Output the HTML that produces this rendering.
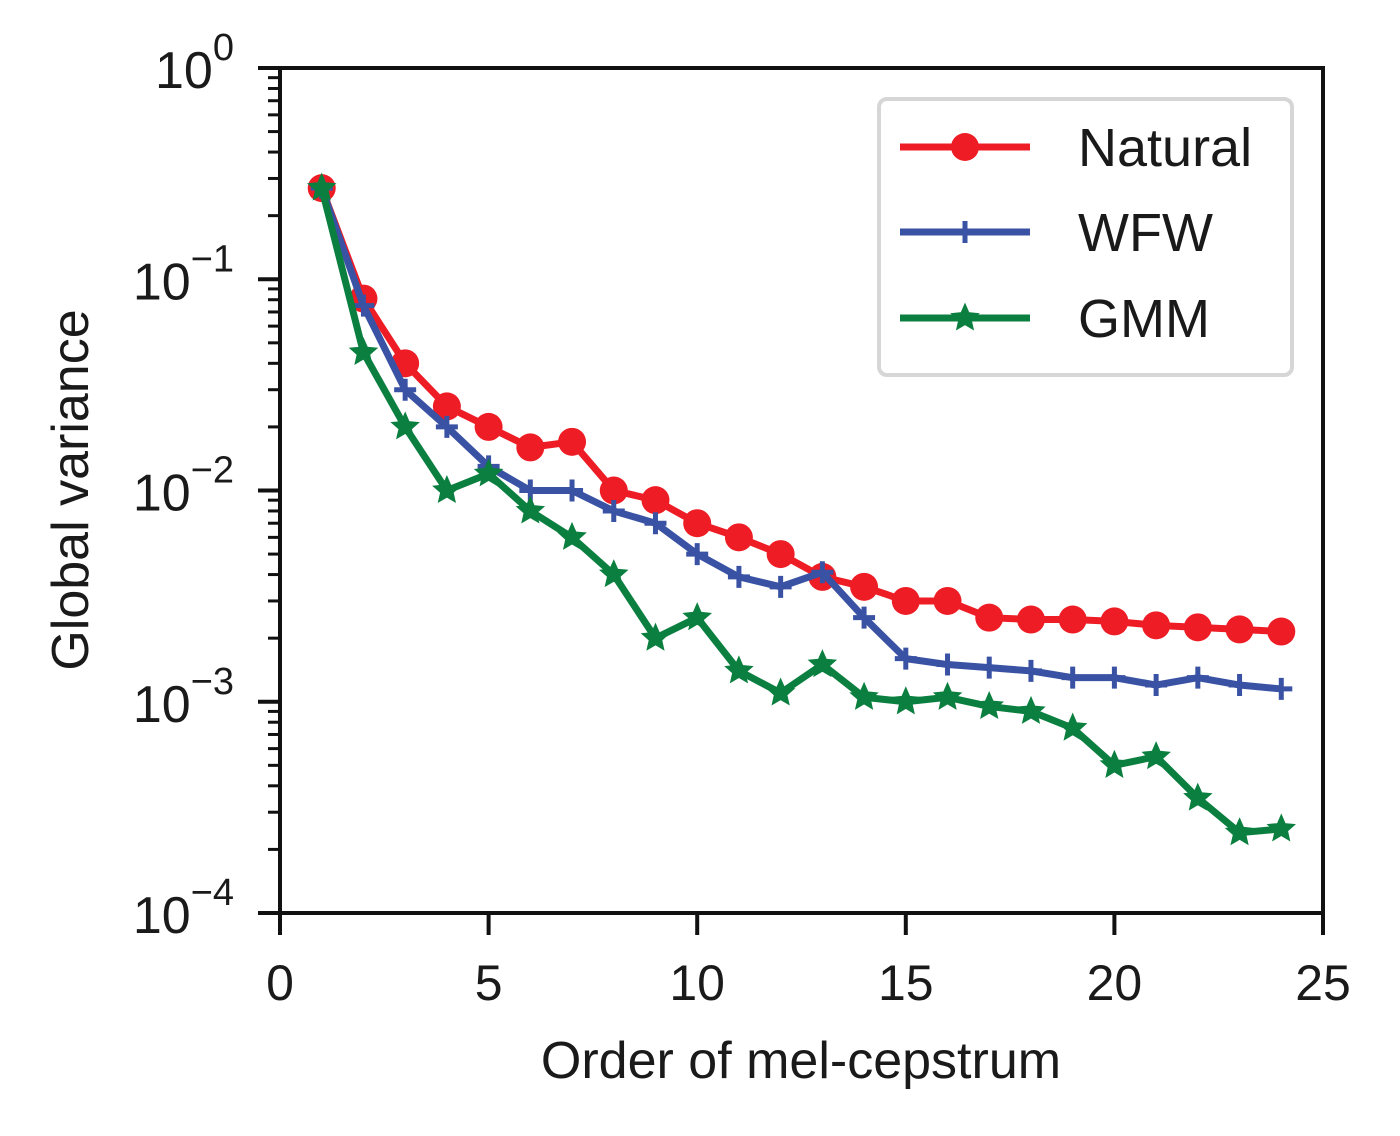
<!DOCTYPE html>
<html><head><meta charset="utf-8"><style>
body{margin:0;background:#fff;}
svg{display:block;font-family:"Liberation Sans","DejaVu Sans",sans-serif;}
</style></head><body>
<svg id="chart" width="1400" height="1136" viewBox="0 0 1400 1136" xmlns="http://www.w3.org/2000/svg"></svg>
<script>
const orders = [1,2,3,4,5,6,7,8,9,10,11,12,13,14,15,16,17,18,19,20,21,22,23,24];
const naturalValues = [0.27,0.081,0.04,0.025,0.02,0.016,0.017,0.01,0.009,0.007,0.006,0.005,0.0039,0.0035,0.003,0.003,0.0025,0.00245,0.00245,0.0024,0.0023,0.00225,0.0022,0.00215];
const wfwValues = [0.27,0.075,0.03,0.02,0.013,0.01,0.01,0.008,0.007,0.005,0.0039,0.0035,0.0041,0.0025,0.0016,0.0015,0.00145,0.0014,0.0013,0.0013,0.0012,0.0013,0.0012,0.00115];
const gmmValues = [0.27,0.045,0.02,0.01,0.012,0.008,0.006,0.004,0.002,0.0025,0.0014,0.0011,0.0015,0.00105,0.001,0.00105,0.00095,0.0009,0.00075,0.0005,0.00055,0.00035,0.00024,0.00025];
const xTicks = [0,5,10,15,20,25];
const yTickExps = [0,-1,-2,-3,-4];

const NS="http://www.w3.org/2000/svg";
const svg=document.getElementById('chart');
const L=280,R=1323,T=68,B=913;
function xs(v){return L+(v-0)/(25-0)*(R-L);}
function ys(v){return T+(0-Math.log10(v))/4*(B-T);}
function mk(tag,attrs,parent){const e=document.createElementNS(NS,tag);for(const k in attrs)e.setAttribute(k,attrs[k]);(parent||svg).appendChild(e);return e;}

xTicks.forEach(t=>{
  const g=mk('g',{});
  
  
  mk('line',{x1:xs(t),x2:xs(t),y1:B,y2:B+22,stroke:'#111','stroke-width':4},g);
  const tx=mk('text',{x:xs(t),y:B+87,'text-anchor':'middle','font-size':50,fill:'#1a1a1a'},g);
  tx.textContent=t;
});
yTickExps.forEach(e=>{
  const g=mk('g',{});
  
  
  const y=ys(Math.pow(10,e));
  mk('line',{x1:L-22,x2:L,y1:y,y2:y,stroke:'#111','stroke-width':4},g);
  const tx=mk('text',{x:L-46,y:y+20,'text-anchor':'end','font-size':52,fill:'#1a1a1a'},g);
  tx.textContent='10';
  const sp=mk('tspan',{dy:-28,'font-size':38},tx);
  sp.textContent=e===0?'0':'\u2212'+(-e);
  if(e>-4){for(let m=2;m<=9;m++){const yy=ys(m*Math.pow(10,e-1));
    mk('line',{x1:L-12,x2:L,y1:yy,y2:yy,stroke:'#111','stroke-width':3},g);}}
});

function series(vals,color,name,marker){
  const g=mk('g',{});
  
  
  const pts=orders.map((o,i)=>xs(o)+','+ys(vals[i])).join(' ');
  mk('polyline',{points:pts,fill:'none',stroke:color,'stroke-width':7,'stroke-linejoin':'round'},g);
  orders.forEach((o,i)=>{const el=drawMarker(marker,xs(o),ys(vals[i]),color,g);
    
    });
}
function drawMarker(type,x,y,color,g){
  if(type==='circle')return mk('circle',{cx:x,cy:y,r:14,fill:color},g);
  if(type==='plus')return mk('path',{d:`M${x-11},${y}H${x+11}M${x},${y-11}V${y+11}`,stroke:color,'stroke-width':5},g);
  let p=[];for(let k=0;k<10;k++){const r=k%2?6:13;const a=-Math.PI/2+k*Math.PI/5;p.push((x+r*Math.cos(a)).toFixed(1)+','+(y+r*Math.sin(a)).toFixed(1));}
  return mk('polygon',{points:p.join(' '),fill:color,stroke:color,'stroke-width':2},g);
}
series(naturalValues,'#ee1c25','natural','circle');
series(wfwValues,'#3a52a4','wfw','plus');
series(gmmValues,'#0b7f3f','gmm','star');

const fr=mk('rect',{x:L,y:T,width:R-L,height:B-T,fill:'none',stroke:'#111','stroke-width':4});



const lg=mk('g',{});


mk('rect',{x:879,y:99,width:413,height:276,rx:8,fill:'#fff','fill-opacity':0.9,stroke:'#d6d6d6','stroke-width':4},lg);
[['Natural','#ee1c25','circle',147],['WFW','#3a52a4','plus',232],['GMM','#0b7f3f','star',318]].forEach(([n,c,m,y])=>{
  const e=mk('g',{},lg);
  
  
  mk('line',{x1:900,x2:1030,y1:y,y2:y,stroke:c,'stroke-width':7},e);
  drawMarker(m,965,y,c,e);
  const t=mk('text',{x:1078,y:y+19,'font-size':54,fill:'#1a1a1a'},e);t.textContent=n;
});

const xl=mk('text',{x:801,y:1078,'text-anchor':'middle','font-size':52,fill:'#1a1a1a'});
xl.textContent='Order of mel-cepstrum';


const yl=mk('text',{x:0,y:0,'text-anchor':'middle','font-size':52,fill:'#1a1a1a',transform:'translate(88,490) rotate(-90)'});
yl.textContent='Global variance';


</script>
</body></html>
